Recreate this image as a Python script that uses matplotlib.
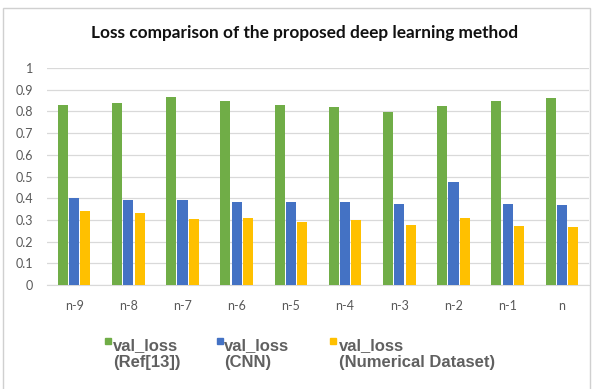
import numpy as np
import matplotlib.pyplot as plt
from matplotlib.patches import Rectangle

categories = ['n-9', 'n-8', 'n-7', 'n-6', 'n-5', 'n-4', 'n-3', 'n-2', 'n-1', 'n']
ref13_loss = [0.831, 0.837, 0.868, 0.849, 0.831, 0.819, 0.795, 0.825, 0.849, 0.862]
cnn_loss = [0.400, 0.394, 0.394, 0.383, 0.383, 0.383, 0.375, 0.475, 0.375, 0.369]
numerical_loss = [0.342, 0.334, 0.302, 0.309, 0.291, 0.298, 0.278, 0.309, 0.271, 0.266]
series_labels = [('val_loss', '(Ref[13])'), ('val_loss', '(CNN)'), ('val_loss', '(Numerical Dataset)')]
colors = ['#70AD47', '#4472C4', '#FFC000']

W, H = 602, 389
fig = plt.figure(figsize=(W / 100, H / 100), dpi=100)
ax = fig.add_axes([47 / W, 1 - 285 / H, 542 / W, 217 / H])

x = np.arange(len(categories))
width = 0.185
offset = 0.21
for i, vals in enumerate([ref13_loss, cnn_loss, numerical_loss]):
    ax.bar(x + (i - 1) * offset, vals, width, color=colors[i], zorder=3)

ax.set_xlim(-0.5, len(categories) - 0.5)
ax.set_ylim(0, 1)
ax.set_yticks(np.arange(0, 1.01, 0.1))
ax.set_yticklabels(['0', '0.1', '0.2', '0.3', '0.4', '0.5', '0.6', '0.7', '0.8', '0.9', '1'])
ax.set_xticks(x)
ax.set_xticklabels(categories)
ax.tick_params(length=0, colors='#595959', labelsize=9)
ax.tick_params(axis='y', pad=10)
ax.tick_params(axis='x', pad=11)
for lab in ax.get_xticklabels() + ax.get_yticklabels():
    lab.set_family('Lato')
ax.grid(axis='y', color='#d9d9d9', linewidth=0.9, zorder=0)
for s in ['top', 'right', 'left']:
    ax.spines[s].set_visible(False)
ax.spines['bottom'].set_color('#d9d9d9')
ax.spines['bottom'].set_zorder(0)

# chart title
fig.text(305 / W, 1 - 33 / H, 'Loss comparison of the proposed deep learning method',
         ha='center', va='center', fontsize=12.4, fontweight='bold', family='Lato', color='#111111')

# legend drawn below the axis
sq_x = [105, 217, 330]
txt_x = [113, 224, 339]
for i in range(3):
    fig.patches.append(Rectangle((sq_x[i] / W, 1 - 344 / H), 6 / W, 6 / H,
                                 transform=fig.transFigure, color=colors[i]))
    fig.text(txt_x[i] / W, 1 - 350 / H, series_labels[i][0], ha='left', va='baseline',
             fontsize=12, fontweight='bold', family='Liberation Sans', color='#606060')
    fig.text(txt_x[i] / W, 1 - 367 / H, series_labels[i][1], ha='left', va='baseline',
             fontsize=12, fontweight='bold', family='Liberation Sans', color='#606060')

# light outer frame
fig.patches.append(Rectangle((3 / W, -0.05), 587 / W, 1 - 8 / H + 0.05,
                             transform=fig.transFigure, fill=False, edgecolor='#d0d0d0', linewidth=1))

fig.savefig('out.png', dpi=100)
